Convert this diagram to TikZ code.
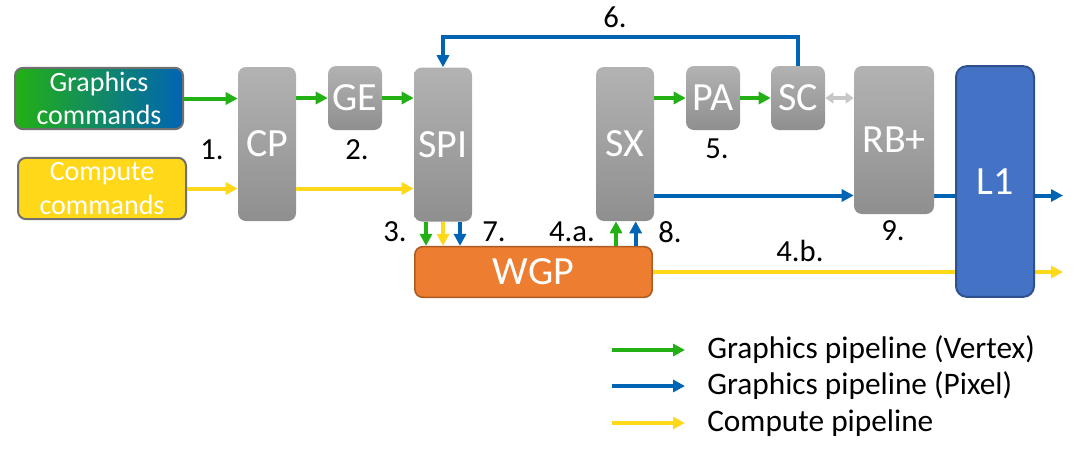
\documentclass[tikz,border=0pt]{standalone}
\usepackage{fontspec}
\setmainfont{Carlito}
\usetikzlibrary{positioning,arrows.meta,backgrounds}

\definecolor{vertexgreen}{RGB}{34,176,20}
\definecolor{pixelblue}{RGB}{0,100,180}
\definecolor{computeyellow}{RGB}{255,216,26}
\definecolor{framegray}{RGB}{112,112,112}
\definecolor{wgporange}{RGB}{237,125,49}
\definecolor{wgpframe}{RGB}{174,90,33}
\definecolor{lonefill}{RGB}{68,114,196}
\definecolor{loneframe}{RGB}{47,82,143}

\begin{document}
\begin{tikzpicture}[x=0.75pt,y=-0.75pt,
cmdnode/.style={rectangle, rounded corners=6pt, draw=framegray, line width=1.5pt, minimum width=126pt, minimum height=46pt, text=white, align=center, inner sep=0pt, font=\fontsize{21}{25}\selectfont},
unitnode/.style={rectangle, rounded corners=6pt, top color=black!30, bottom color=black!44, text=white, inner sep=0pt, font=\fontsize{30}{36}\selectfont},
tallunit/.style={unitnode, minimum width=43.5pt, minimum height=115.5pt},
smallunit/.style={unitnode, minimum width=40.5pt, minimum height=48pt},
wgpnode/.style={rectangle, rounded corners=6pt, draw=wgpframe, line width=1.2pt, fill=wgporange, text=white, minimum width=178pt, minimum height=38pt, inner sep=0pt, font=\fontsize{30}{36}\selectfont},
lonenode/.style={rectangle, rounded corners=8pt, draw=loneframe, line width=1.5pt, fill=lonefill, text=white, minimum width=58.5pt, minimum height=173pt, inner sep=0pt, font=\fontsize{30}{36}\selectfont},
numlabel/.style={inner sep=0pt, font=\fontsize{23}{27}\selectfont},
legtext/.style={anchor=west, inner sep=0pt, font=\fontsize{23.5}{28}\selectfont},
flow/.style={line width=3pt, -{Triangle[length=9pt,width=9pt]}},
vertex/.style={flow, draw=vertexgreen},
pixel/.style={flow, draw=pixelblue},
compute/.style={flow, draw=computeyellow},
sclink/.style={line width=2.5pt, draw=black!22, {Triangle[length=6pt,width=8pt]}-{Triangle[length=6pt,width=8pt]}},
]
\useasboundingbox (0,0) rectangle (1078,458);

%Nodes
\node[cmdnode, left color=vertexgreen, right color=pixelblue] (gfxcmd) at (99,98.5) {Graphics\\commands};
\node[cmdnode, fill=computeyellow] (cmpcmd) at (102,188.5) {Compute\\commands};
\node[tallunit] (cp) at (267,144) {CP};
\node[smallunit] (ge) at (355,98) {GE};
\node[tallunit] (spi) at (443,144.5) {SPI};
\node[tallunit] (sx) at (625,144) {SX};
\node[smallunit] (pa) at (713,98) {PA};
\node[smallunit] (sc) at (798,98) {SC};
\node[unitnode, minimum width=60pt, minimum height=111pt] (rb) at (894,140) {RB+};
\node[wgpnode] (wgp) at (533.5,272) {WGP};
\node[lonenode] (l1) at (995,181.5) {L1};

\coordinate (loop) at (620,37);
\coordinate (pixrow) at (0,195.5);
\coordinate (pixout) at (1063,195.5);
\coordinate (cmpout) at (1063,272);

%Numbers
\foreach \t/\x/\y [count=\i] in {1./212/150, 2./357/150, 3./395/232, 7./494/232, 4.a./572/232, 8./670/232, 5./717/149, 4.b./800/251, 9./893/231, 6./615/17}
  \node[numlabel] (num\i) at (\x,\y) {\t};

%Lines
\draw[vertex] (gfxcmd.east) -- (gfxcmd.east -| cp.west);
\draw[compute] (cmpcmd.east) -- (cmpcmd.east -| cp.west);
\draw[vertex] (cp.east |- ge.west) -- (ge.west);
\draw[vertex] (ge.east) -- (ge.east -| spi.west);
\draw[compute] (cp.east |- cmpcmd.east) -- (spi.west |- cmpcmd.east);
\draw[pixel] (sc.north) |- (loop) -| (spi.north);
\draw[vertex] (sx.east |- pa.west) -- (pa.west);
\draw[vertex] (pa.east) -- (sc.west);
\draw[sclink] (sc.east) -- (sc.east -| rb.west);
\draw[pixel] (sx.east |- pixrow) -- (rb.west |- pixrow);
\begin{pgfonlayer}{background}
\draw[pixel] (rb.east |- pixrow) -- (pixout);
\draw[compute] (wgp.east) -- (cmpout);
\end{pgfonlayer}

\foreach \dx/\c in {-12.75/vertex, 0/compute, 12.75/pixel} {
  \path ([xshift=\dx pt]spi.south) coordinate (spiout);
  \draw[\c] (spiout) -- (spiout |- wgp.north);
}
\foreach \dx/\c in {-6.75/vertex, 8/pixel} {
  \path ([xshift=\dx pt]sx.south) coordinate (sxin);
  \draw[\c] (sxin |- wgp.north) -- (sxin);
}

%Legend
\foreach \c/\t/\y [count=\i] in {vertex/{Graphics pipeline (Vertex)}/350, pixel/{Graphics pipeline (Pixel)}/386, compute/{Compute pipeline}/423} {
  \coordinate (lgs\i) at (612,\y);
  \node[legtext] (leg\i) at (707,\y) {\t};
  \draw[\c, shorten >=16.5pt] (lgs\i) -- (leg\i.west);
}
\end{tikzpicture}
\end{document}
